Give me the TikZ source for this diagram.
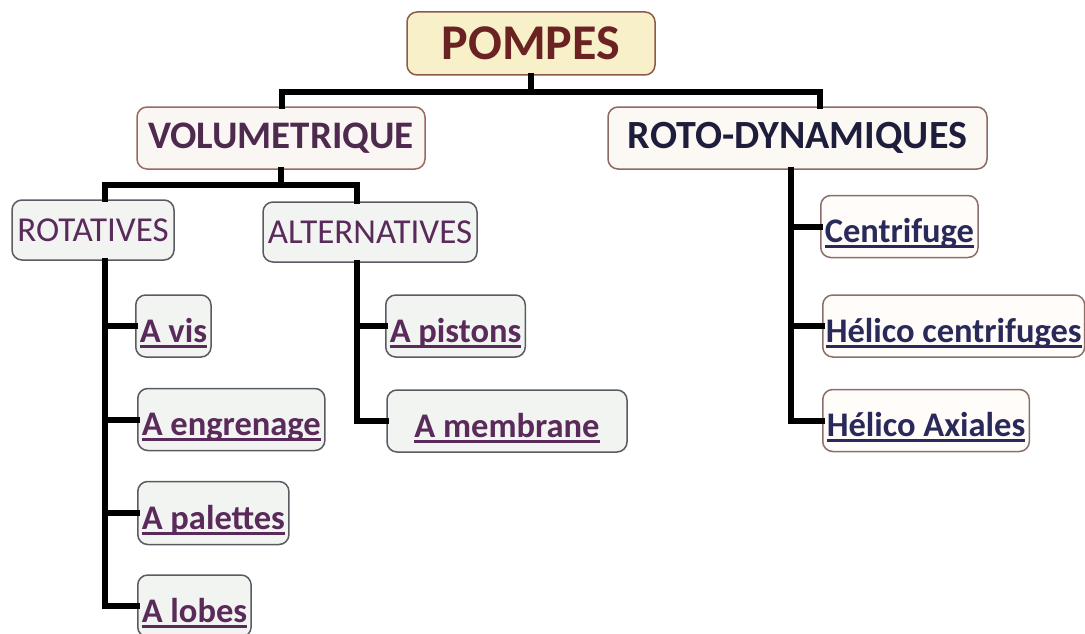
\documentclass[tikz,border=0pt]{standalone}
\usepackage{fontspec}
\setmainfont{Carlito}
\definecolor{pfill}{HTML}{F8F0C8}
\definecolor{pdraw}{HTML}{8C5A4A}
\definecolor{ptext}{HTML}{6B2222}
\definecolor{vfill}{HTML}{FAF6F3}
\definecolor{vdraw}{HTML}{9A6A60}
\definecolor{vtext}{HTML}{4F2A4F}
\definecolor{rfill}{HTML}{FCF9F4}
\definecolor{rdraw}{HTML}{8A6A62}
\definecolor{rtext}{HTML}{1E1E3C}
\definecolor{lfill}{HTML}{F1F4F1}
\definecolor{ldraw}{HTML}{5A5A62}
\definecolor{ltext}{HTML}{5A2A5A}
\definecolor{nfill}{HTML}{FFFCFA}
\definecolor{ndraw}{HTML}{8A7068}
\definecolor{ntext}{HTML}{2A2A5A}
\newcommand\ulink[1]{\setbox0\hbox{#1}\rlap{\rule[-5.5pt]{\wd0}{2.8pt}}\box0}
\tikzset{
  box/.style={rounded corners=10pt, line width=1.5pt, inner sep=0pt, align=center},
  conn/.style={line width=6pt, line join=miter, line cap=rect},
  leaf/.style={box, minimum height=62pt, inner xsep=4pt, text height=32pt, text depth=0pt,
    font=\fontsize{34.5}{38}\selectfont\bfseries},
  leafL/.style={leaf, draw=ldraw, fill=lfill, text=ltext},
  leafR/.style={leaf, draw=ndraw, fill=nfill, text=ntext},
  midL/.style={box, draw=ldraw, fill=lfill, text=ltext, minimum height=60pt,
    font=\fontsize{35}{38}\selectfont},
}
\begin{document}
\begin{tikzpicture}[x=1pt,y=-1pt]
\useasboundingbox (0,0) rectangle (1085,634);
% nodes
\node[box, draw=pdraw, fill=pfill, text=ptext, minimum width=248pt, minimum height=63pt,
  font=\fontsize{50}{54}\selectfont\bfseries] (pompes) at (531,43.5) {POMPES};
\node[box, draw=vdraw, fill=vfill, text=vtext, minimum width=288pt, minimum height=62pt,
  font=\fontsize{39}{42}\selectfont\bfseries] (vol) at (281,138) {VOLUMETRIQUE};
\node[box, draw=rdraw, fill=rfill, text=rtext, minimum width=379pt, minimum height=62pt,
  font=\fontsize{40}{44}\selectfont\bfseries] (roto) at (797.5,138) {ROTO-DYNAMIQUES};
\node[midL, minimum width=162pt] (rot) at (93,230) {ROTATIVES};
\node[midL, minimum width=214pt] (alt) at (370,232) {ALTERNATIVES};
\node[leafL, anchor=west] (avis) at (135,326) {\ulink{A vis}};
\node[leafL, anchor=west] (aengr) at (137,419.5) {\ulink{A engrenage}};
\node[leafL, anchor=west, minimum height=63pt] (apal) at (137,513) {\ulink{A palettes}};
\node[leafL, anchor=west] (alob) at (137,606) {\ulink{A lobes}};
\node[leafL, anchor=west] (apist) at (385,326) {\ulink{A pistons}};
\node[leafL, minimum width=240pt] (amem) at (507,421) {\ulink{A membrane}};
\node[leafR, anchor=west] (cent) at (820,226.5) {\ulink{Centrifuge}};
\node[leafR, anchor=west, inner xsep=3pt] (hcent) at (822,326) {\ulink{Hélico centrifuges}};
\node[leafR, anchor=west] (hax) at (822,420.5) {\ulink{Hélico Axiales}};
% junctions
\coordinate (tl) at (282,92);
\coordinate (tr) at (820,92);
\coordinate (j1) at (105,185);
\coordinate (j2) at (357,185);
\coordinate (rv) at (791,169);
% connectors
\draw[conn] (pompes.south) |- (tl) -- (tl |- vol.north);
\draw[conn] (pompes.south) |- (tr) -- (tr |- roto.north);
\draw[conn] (vol.south) |- (j1) -- (j1 |- rot.north);
\draw[conn] (vol.south) |- (j2) -- (j2 |- alt.north);
\draw[conn] (j1 |- rot.south) |- (avis.west);
\draw[conn] (j1 |- rot.south) |- (aengr.west);
\draw[conn] (j1 |- rot.south) |- (apal.west);
\draw[conn] (j1 |- rot.south) |- (alob.west);
\draw[conn] (j2 |- alt.south) |- (apist.west);
\draw[conn] (j2 |- alt.south) |- (amem.west);
\draw[conn] (rv |- roto.south) |- (cent.west);
\draw[conn] (rv |- roto.south) |- (hcent.west);
\draw[conn] (rv |- roto.south) |- (hax.west);
\end{tikzpicture}
\end{document}
